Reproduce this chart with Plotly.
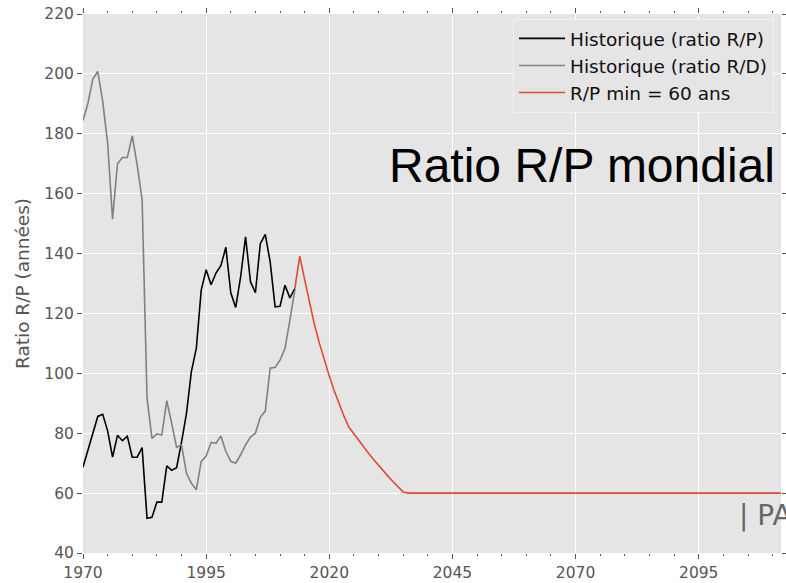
import plotly.graph_objects as go

# ---- data ----
years_hist = list(range(1970, 2014))
rp_hist = [68.7, 74.5, 79.5, 85.6, 86.3, 80.8, 72.0, 79.3, 77.5, 79.0,
           72.0, 72.0, 75.2, 51.6, 51.9, 57.0, 57.0, 69.1, 67.6, 68.5,
           77.0, 86.5, 100.6, 108.3, 127.8, 134.6, 129.6, 133.5, 136.0, 142.1,
           126.9, 122.0, 132.2, 145.6, 130.6, 126.9, 143.3, 146.4, 137.2, 122.2,
           122.4, 129.4, 125.2, 128.3]
rd_hist = [184.4, 190.2, 198.3, 200.8, 190.8, 176.9, 151.5, 170.0, 172.1, 172.1,
           179.3, 169.5, 158.0, 91.7, 78.3, 79.8, 79.4, 90.9, 83.3, 75.3,
           76.1, 66.7, 63.3, 61.1, 70.6, 72.4, 76.9, 76.7, 79.1, 73.9,
           70.6, 70.0, 72.8, 76.1, 78.7, 80.0, 85.3, 87.4, 101.7, 102.0,
           104.4, 108.3, 117.8, 127.8]
years_proj = list(range(2013, 2113))
rp_proj = [128.3, 139.1, 131.3, 123.5, 116.2, 110.0, 104.4, 99.1, 94.2, 89.6,
           85.6, 82.0, 79.7, 77.5, 75.3, 73.2, 71.2, 69.2, 67.3, 65.5,
           63.7, 62.0, 60.4, 60.0, 60.0, 60.1, 60.0, 60.0, 60.1, 60.0,
           59.9, 60.0, 60.0, 60.0, 60.1, 60.0, 60.0, 59.9, 60.0, 60.0,
           60.1, 60.0, 60.0, 60.0, 60.0, 60.1, 60.0, 60.0, 60.0, 60.0,
           59.9, 60.0, 60.1, 60.0, 60.0, 60.0, 60.0, 60.1, 60.0, 60.0,
           60.0, 60.0, 59.9, 60.0, 60.0, 60.0, 60.1, 60.0, 60.0, 60.0,
           60.0, 60.0, 60.0, 60.0, 59.9, 60.0, 60.0, 60.0, 60.0, 60.1,
           60.0, 60.0, 60.0, 60.0, 60.0, 60.0, 59.9, 60.0, 60.0, 60.0,
           60.0, 60.0, 60.1, 60.0, 60.0, 60.0, 60.0, 60.0, 59.9, 60.0]
names = ["Historique (ratio R/P)", "Historique (ratio R/D)", "R/P min = 60 ans"]
x_ticks = [1970, 1995, 2020, 2045, 2070, 2095]
y_ticks = [40, 60, 80, 100, 120, 140, 160, 180, 200, 220]

fig = go.Figure()
fig.add_trace(go.Scatter(x=years_hist, y=rp_hist, mode="lines", name=names[0],
                         line=dict(color="black", width=1.6)))
fig.add_trace(go.Scatter(x=years_hist, y=rd_hist, mode="lines", name=names[1],
                         line=dict(color="#808080", width=1.6)))
fig.add_trace(go.Scatter(x=years_proj, y=rp_proj, mode="lines", name=names[2],
                         line=dict(color="#E24A33", width=1.6)))

tickfont = dict(family="DejaVu Sans", size=15.5, color="#555555")
axis_common = dict(showgrid=True, gridcolor="white", gridwidth=1, zeroline=False,
                   ticks="outside", ticklen=5, tickwidth=1, tickcolor="#555555",
                   mirror="ticks", showline=False, tickfont=tickfont, automargin=False,
                   ticklabeloverflow="allow")

fig.update_xaxes(range=[1970, 2111.7], tickvals=x_ticks,
                 minor=dict(dtick=5, tick0=1970, ticks="outside", ticklen=2,
                            tickcolor="#555555", showgrid=False),
                 **axis_common)
fig.update_yaxes(range=[40, 220], tickvals=y_ticks,
                 title=dict(text="Ratio R/P (années)", standoff=9,
                            font=dict(family="DejaVu Sans", size=18.5, color="#555555")),
                 **axis_common)

fig.add_annotation(text="Ratio R/P mondial", xref="paper", yref="paper",
                   x=0.9943, y=0.719, xanchor="right", yanchor="middle", showarrow=False,
                   font=dict(family="Liberation Sans", size=48, color="black"))
fig.add_annotation(text="| PA", xref="paper", yref="paper",
                   x=0.9364, y=0.0705, xanchor="left", yanchor="middle", showarrow=False,
                   font=dict(family="DejaVu Sans", size=28, color="#666666"))

fig.update_layout(width=786, height=583,
                  margin=dict(l=83, r=5, t=14, b=30),
                  paper_bgcolor="white", plot_bgcolor="#E5E5E5",
                  showlegend=True,
                  legend=dict(x=0.990, y=0.991, xanchor="right", yanchor="top",
                              itemwidth=46,
                              bgcolor="#E5E5E5", bordercolor="#F2F2F2", borderwidth=1,
                              font=dict(family="DejaVu Sans", size=18.5, color="#111111")))

# remove the default 8px page margin so the figure sits at the window origin
fig.write_html("out.html", config={"displayModeBar": False},
               post_script="document.body.style.margin='0';")
